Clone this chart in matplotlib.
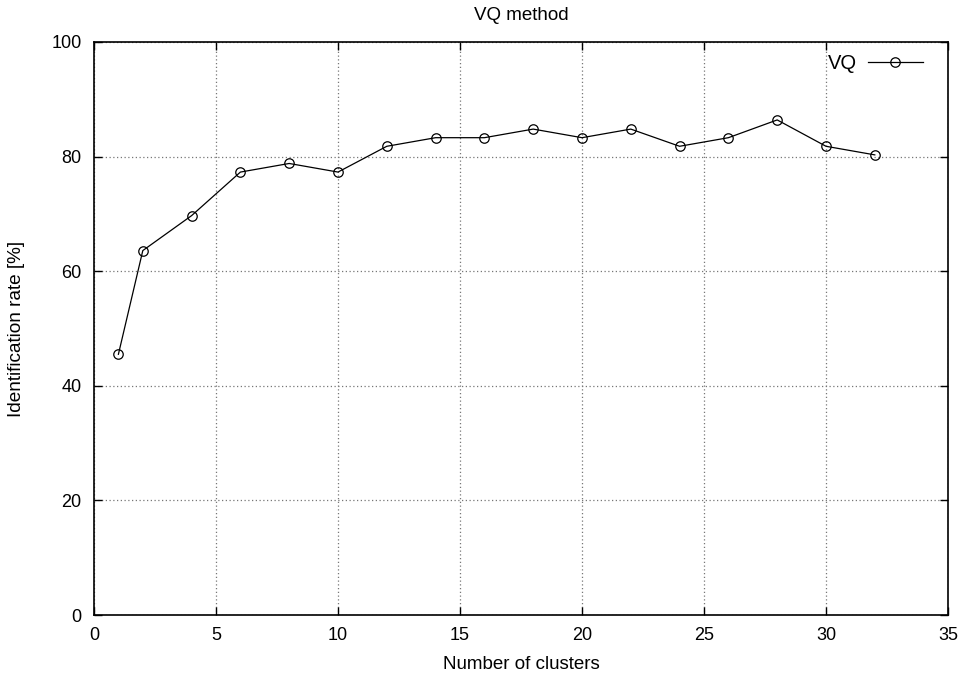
import matplotlib.pyplot as plt

plt.rcParams['font.family'] = ['Liberation Sans', 'DejaVu Sans']
plt.rcParams['font.size'] = 13

# number of clusters vs identification rate
clusters = [1, 2, 4, 6, 8, 10, 12, 14, 16, 18, 20, 22, 24, 26, 28, 30, 32]
rate = [45.5, 63.6, 69.7, 77.3, 78.8, 77.3, 81.8, 83.3, 83.3, 84.8,
        83.3, 84.8, 81.8, 83.3, 86.4, 81.8, 80.3]

fig = plt.figure(figsize=(9.71, 6.74), dpi=100)
ax = fig.add_axes([94 / 971, 1 - 615 / 674, 854 / 971, 573 / 674])

ax.plot(clusters, rate, color='black', linewidth=0.9, marker='o',
        markersize=6.8, markerfacecolor='none', markeredgecolor='black',
        markeredgewidth=0.9, label='VQ')

ax.set_xlim(0, 35)
ax.set_ylim(0, 100)
ax.set_xticks(range(0, 36, 5))
ax.set_yticks(range(0, 101, 20))
ax.grid(True, linestyle=(0, (1, 2)), color='#777777', linewidth=0.9)
ax.tick_params(direction='in', top=True, right=True, length=6, width=1,
               pad=9)
for s in ax.spines.values():
    s.set_linewidth(1.2)

ax.set_title('VQ method', fontsize=13.5, pad=16)
ax.set_xlabel('Number of clusters', fontsize=13.5, labelpad=8)
ax.set_ylabel('Identification rate [%]', fontsize=13.7, labelpad=19)

ax.legend(loc='upper right', bbox_to_anchor=(0.992, 1.01), frameon=False,
          markerfirst=False, handlelength=2.75, handletextpad=0.55,
          fontsize=14.5)

fig.savefig('out.png', dpi=100)
